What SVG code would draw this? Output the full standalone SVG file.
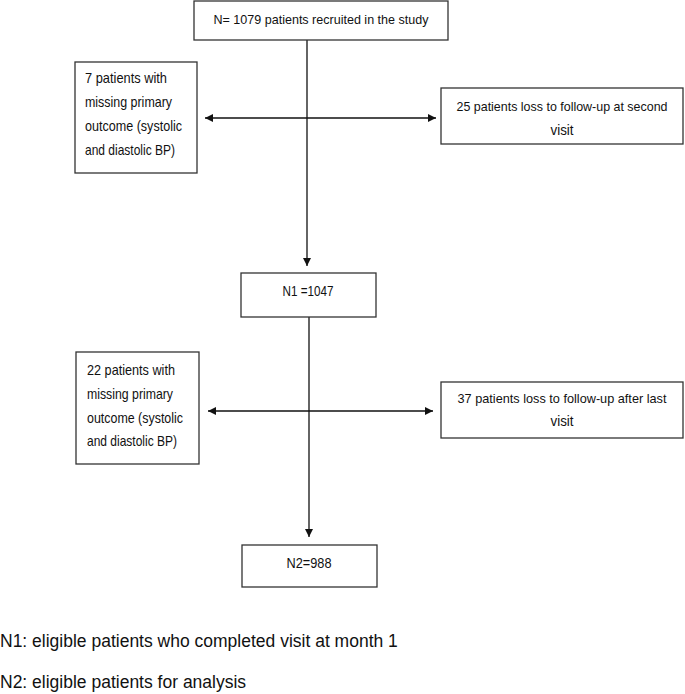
<svg xmlns="http://www.w3.org/2000/svg" width="685" height="694" viewBox="0 0 685 694">
<style>
.box{fill:#fff;stroke:#333;stroke-width:1.3}
.t{font-family:"Liberation Sans",Arial,sans-serif;font-size:14.5px;fill:#111}
.s{font-size:13.5px}
.c{stroke:#111;stroke-width:1.3;fill:none}
.foot{font-family:"Liberation Sans",Arial,sans-serif;font-size:17.5px;fill:#111}
</style>
<defs>
<marker id="ah" viewBox="0 0 10 10" refX="10" refY="5" markerWidth="8" markerHeight="8" markerUnits="userSpaceOnUse" orient="auto">
<path d="M0,0 L10,5 L0,10 z" fill="#111"/>
</marker>
</defs>
<g id="connectors">
<line class="c" x1="307" y1="40" x2="307" y2="266" marker-end="url(#ah)"/>
<line class="c" x1="307" y1="118" x2="205" y2="118" marker-end="url(#ah)"/>
<line class="c" x1="307" y1="118" x2="436" y2="118" marker-end="url(#ah)"/>
<line class="c" x1="309" y1="317" x2="309" y2="537" marker-end="url(#ah)"/>
<line class="c" x1="309" y1="411" x2="208" y2="411" marker-end="url(#ah)"/>
<line class="c" x1="309" y1="411" x2="433" y2="411" marker-end="url(#ah)"/>
</g>
<g id="n0">
<rect class="box" x="194" y="1" width="254" height="39"/>
<text class="t s" x="321" y="24" text-anchor="middle" textLength="215" lengthAdjust="spacingAndGlyphs">N= 1079 patients recruited in the study</text>
</g>
<g id="n1">
<rect class="box" x="75" y="62" width="122" height="111"/>
<text class="t" x="85" y="83" textLength="82" lengthAdjust="spacingAndGlyphs">7 patients with</text>
<text class="t" x="85" y="107" textLength="87" lengthAdjust="spacingAndGlyphs">missing primary</text>
<text class="t" x="85" y="131" textLength="97" lengthAdjust="spacingAndGlyphs">outcome (systolic</text>
<text class="t" x="85" y="155" textLength="90" lengthAdjust="spacingAndGlyphs">and diastolic BP)</text>
</g>
<g id="n2">
<rect class="box" x="441" y="88" width="242" height="56"/>
<text class="t s" x="562" y="111" text-anchor="middle" textLength="211" lengthAdjust="spacingAndGlyphs">25 patients loss to follow-up at second</text>
<text class="t" x="562" y="135" text-anchor="middle" textLength="23" lengthAdjust="spacingAndGlyphs">visit</text>
</g>
<g id="n3">
<rect class="box" x="241" y="273" width="135" height="44"/>
<text class="t" x="308" y="296" text-anchor="middle" textLength="51" lengthAdjust="spacingAndGlyphs">N1 =1047</text>
</g>
<g id="n4">
<rect class="box" x="76" y="352" width="123" height="112"/>
<text class="t" x="87" y="375" textLength="88" lengthAdjust="spacingAndGlyphs">22 patients with</text>
<text class="t" x="87" y="399" textLength="86" lengthAdjust="spacingAndGlyphs">missing primary</text>
<text class="t" x="87" y="423" textLength="96" lengthAdjust="spacingAndGlyphs">outcome (systolic</text>
<text class="t" x="87" y="446" textLength="90" lengthAdjust="spacingAndGlyphs">and diastolic BP)</text>
</g>
<g id="n5">
<rect class="box" x="441" y="382" width="242" height="56"/>
<text class="t s" x="562" y="403" text-anchor="middle" textLength="209" lengthAdjust="spacingAndGlyphs">37 patients loss to follow-up after last</text>
<text class="t" x="562" y="426" text-anchor="middle" textLength="23" lengthAdjust="spacingAndGlyphs">visit</text>
</g>
<g id="n6">
<rect class="box" x="242" y="545" width="135" height="42"/>
<text class="t" x="309" y="568" text-anchor="middle" textLength="45" lengthAdjust="spacingAndGlyphs">N2=988</text>
</g>
<text class="foot" x="0" y="647">N1: eligible patients who completed visit at month 1</text>
<text class="foot" x="0" y="688">N2: eligible patients for analysis</text>
</svg>
